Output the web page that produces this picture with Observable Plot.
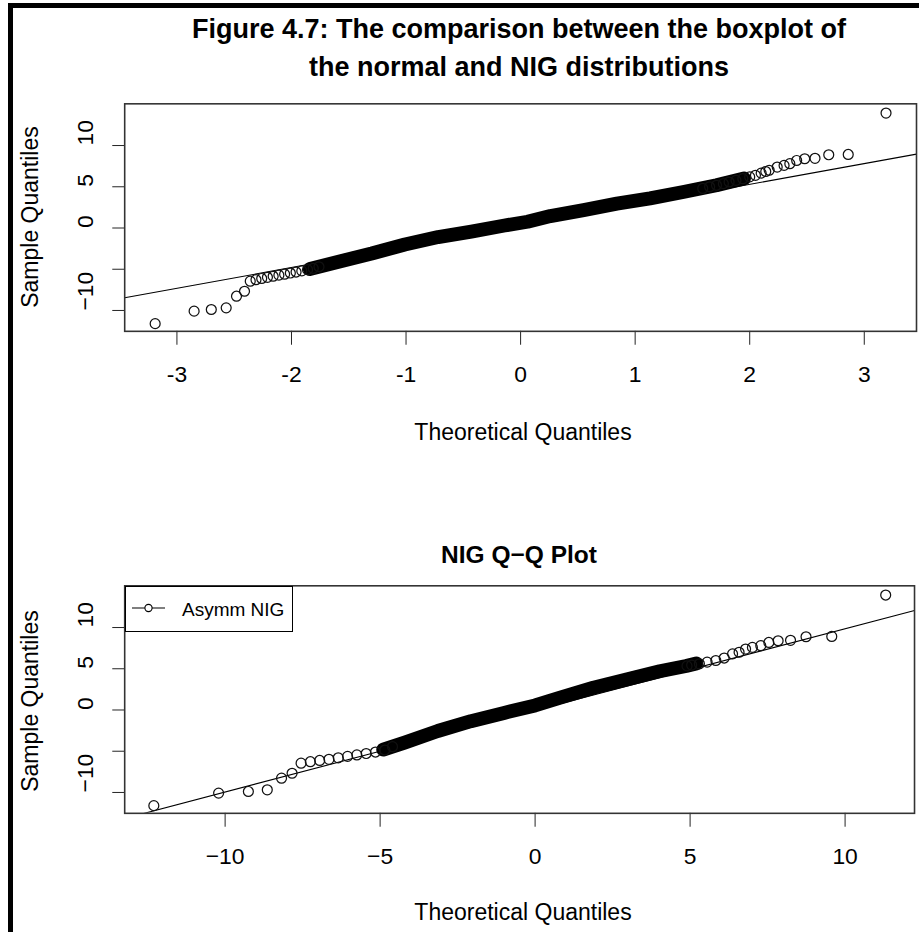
<!DOCTYPE html>
<html>
<head>
<meta charset="utf-8">
<script src="https://cdn.jsdelivr.net/npm/d3@7"></script>
<script src="https://cdn.jsdelivr.net/npm/@observablehq/plot@0.6"></script>
<style>
html,body{margin:0;padding:0;width:919px;height:932px;overflow:hidden;background:#fff;}
body{position:relative;font-family:"Liberation Sans",Arial,sans-serif;color:#000;}
#frame{position:absolute;left:8px;top:3px;width:2000px;height:2000px;border:5px solid #000;box-sizing:border-box;}
.t{position:absolute;white-space:nowrap;line-height:1;transform:translate(-50%,-50%);}
.rot{transform:translate(-50%,-50%) rotate(-90deg);}
.b{font-weight:bold;}
.plot{position:absolute;left:0;}
#legend{position:absolute;left:125px;top:586px;width:168px;height:46px;border:1.6px solid #000;box-sizing:border-box;background:#fff;}
#legend svg{position:absolute;left:4px;top:0;}
#legend span{position:absolute;left:56px;top:50%;transform:translateY(-50%);font-size:19px;line-height:1;white-space:nowrap;}
</style>
</head>
<body>
<div id="frame"></div>
<div class="t b" style="left:519px;top:29px;font-size:27px;">Figure 4.7: The comparison between the boxplot of</div>
<div class="t b" style="left:519px;top:67px;font-size:27px;">the normal and NIG distributions</div>
<div id="top" class="plot" style="top:0px;"></div>
<div class="t" style="left:523px;top:432px;font-size:23px;">Theoretical Quantiles</div>
<div class="t rot" style="left:30px;top:217px;font-size:23px;">Sample Quantiles</div>
<div class="t b" style="left:519px;top:555px;font-size:24.5px;">NIG Q−Q Plot</div>
<div id="bottom" class="plot" style="top:480px;"></div>
<div class="t" style="left:523px;top:912px;font-size:23px;">Theoretical Quantiles</div>
<div class="t rot" style="left:30px;top:701px;font-size:23px;">Sample Quantiles</div>
<div id="legend"></div>
<script>
// ---------- Data ----------
// Panel 1: normal Q-Q plot, individually visible points (tails and sparse parts)
const normTheo   = [-3.19,-2.85,-2.70,-2.57,-2.48,-2.41,-2.36,-2.31,-2.26,-2.21,-2.16,-2.11,-2.06,-2.01,-1.96,-1.91,-1.86,-1.81,-1.76,
                    1.59,1.65,1.71,1.77,1.82,1.88,1.94,2.00,2.05,2.10,2.14,2.17,2.24,2.30,2.35,2.41,2.48,2.57,2.69,2.86,3.19];
const normSample = [-11.6,-10.08,-9.88,-9.68,-8.27,-7.67,-6.45,-6.27,-6.12,-5.98,-5.85,-5.72,-5.6,-5.46,-5.34,-5.2,-5.05,-4.9,-4.7,
                    4.8,5.0,5.18,5.38,5.58,5.78,5.98,6.2,6.39,6.65,6.85,7.0,7.39,7.59,7.8,8.19,8.4,8.45,8.88,8.92,13.94];
// Panel 1: the dense (solid black) body of points, traced along its centre
const normBandTheo   = [-1.84,-1.58,-1.30,-1.01,-0.72,-0.43,-0.14,0.06,0.26,0.55,0.84,1.13,1.42,1.71,1.95];
const normBandSample = [-4.98,-4.06,-3.1,-2.0,-1.1,-0.44,0.3,0.76,1.45,2.17,2.95,3.6,4.37,5.18,6.0];
// Panel 1: qqline
const normLine = {intercept: 0.25, slope: 2.52};

// Panel 2: NIG Q-Q plot, individually visible points
const nigTheo   = [-12.3,-10.21,-9.25,-8.64,-8.18,-7.84,-7.55,-7.25,-6.95,-6.65,-6.35,-6.05,-5.75,-5.45,-5.15,-4.85,-4.6,
                   4.9,5.05,5.3,5.55,5.83,6.1,6.37,6.58,6.79,7.01,7.28,7.54,7.84,8.24,8.74,9.57,11.31];
const nigSample = [-11.6,-10.08,-9.88,-9.68,-8.27,-7.67,-6.45,-6.27,-6.12,-5.98,-5.8,-5.62,-5.45,-5.28,-5.1,-4.85,-4.45,
                   5.35,5.45,5.6,5.8,6.0,6.3,6.8,7.0,7.39,7.59,7.8,8.19,8.4,8.45,8.88,8.92,13.94];
// Panel 2: dense body
const nigBandTheo   = [-4.9,-4.21,-3.14,-2.07,-1.0,0.0,0.81,1.88,2.95,4.02,4.87,5.2];
const nigBandSample = [-4.8,-3.95,-2.55,-1.35,-0.35,0.55,1.5,2.7,3.7,4.7,5.34,5.65];
// Panel 2: qqline
const nigLine = {intercept: -0.05, slope: 0.99};

// Axes
const normXTicks = [-3,-2,-1,0,1,2,3];
const nigXTicks  = [-10,-5,0,5,10];
const yTicks     = [-10,-5,0,5,10];
const yTickLabels = ["\u221210","","0","5","10"];
const legendLabel = "Asymm NIG";

// ---------- Build ----------
const font = "'Liberation Sans', Arial, sans-serif";
const zip = (a,b) => a.map((v,i)=>({x:v, y:b[i]}));

function qqPanel({xDomain, pts, band, line, xTicks, xFmt, marginTop, marginBottom, height, marginRight}) {
  const refPts = xDomain.map(x => ({x, y: line.intercept + line.slope * x}));
  const yLab = yTicks.map((v,i)=>({v, s: yTickLabels[i]})).filter(d => d.s !== "");
  return Plot.plot({
    width: 925, height,
    marginLeft: 125, marginRight, marginTop, marginBottom,
    x: {domain: xDomain},
    y: {domain: [-12.53, 15.06]},
    style: {fontFamily: font, fontSize: "23px", background: "transparent", overflow: "visible", color: "#000"},
    marks: [
      Plot.axisX({ticks: xTicks, tickSize: 14, tickPadding: 21, tickFormat: xFmt, label: null, stroke: "#222"}),
      Plot.axisY({ticks: yTicks, tickSize: 12, tickFormat: () => "", label: null, stroke: "#222"}),
      Plot.text(yLab, {y: "v", text: "s", frameAnchor: "left", dx: -39, rotate: -90, fontSize: 23}),
      Plot.line(refPts, {x: "x", y: "y", stroke: "#000", strokeWidth: 1.1, clip: true}),
      Plot.line(band, {x: "x", y: "y", stroke: "#000", strokeWidth: 14, strokeLinecap: "round", strokeLinejoin: "round"}),
      Plot.dot(pts, {x: "x", y: "y", r: 5, stroke: "#111", strokeWidth: 1.25, fill: "none"}),
      Plot.frame({stroke: "#333", strokeWidth: 1.6})
    ]
  });
}

const fmtHyphen = d => d < 0 ? "-" + (-d) : String(d);
const fmtMinus  = d => d < 0 ? "\u2212" + (-d) : String(d);

document.getElementById("top").append(qqPanel({
  xDomain: [-3.456, 3.456],
  pts: zip(normTheo, normSample),
  band: zip(normBandTheo, normBandSample),
  line: normLine,
  xTicks: normXTicks, xFmt: fmtHyphen,
  height: 480, marginTop: 104, marginBottom: 147, marginRight: 3
}));

document.getElementById("bottom").append(qqPanel({
  xDomain: [-13.24, 12.24],
  pts: zip(nigTheo, nigSample),
  band: zip(nigBandTheo, nigBandSample),
  line: nigLine,
  xTicks: nigXTicks, xFmt: fmtMinus,
  height: 452, marginTop: 106, marginBottom: 117, marginRight: 5
}));

// Legend
const leg = document.getElementById("legend");
const ls = d3.create("svg").attr("width", 40).attr("height", 42);
ls.append("line").attr("x1", 2).attr("x2", 35).attr("y1", 21).attr("y2", 21).attr("stroke", "#000").attr("stroke-width", 1.2);
ls.append("circle").attr("cx", 18.5).attr("cy", 21).attr("r", 3.6).attr("fill", "#fff").attr("stroke", "#000").attr("stroke-width", 1.1);
leg.append(ls.node());
const sp = document.createElement("span"); sp.textContent = legendLabel; leg.append(sp);
</script>
</body>
</html>
